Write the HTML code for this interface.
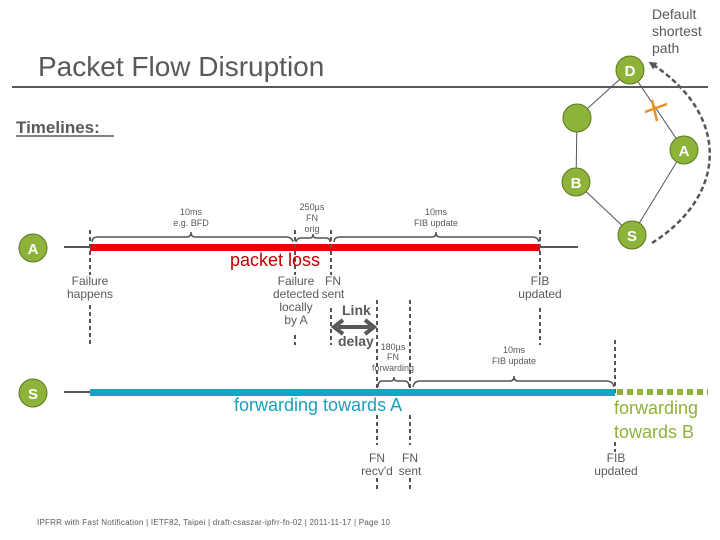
<!DOCTYPE html>
<html><head><meta charset="utf-8"><style>
html,body{margin:0;padding:0;background:#fff;}
svg{display:block;font-family:"Liberation Sans",Arial,sans-serif;}
</style></head><body>
<svg width="720" height="540" viewBox="0 0 720 540" xmlns="http://www.w3.org/2000/svg">
<defs>
<marker id="ah" markerWidth="8" markerHeight="8" refX="4" refY="4" orient="auto" markerUnits="userSpaceOnUse"><path d="M0,0 L8,4 L0,8 z" fill="#555"/></marker>
</defs>
<text x="38" y="76" font-size="28" fill="#595959">Packet Flow Disruption</text>
<line x1="12" y1="87" x2="708" y2="87" stroke="#595959" stroke-width="2"/>
<text x="16" y="133" font-size="17" font-weight="bold" fill="#595959">Timelines:</text>
<line x1="16" y1="136" x2="114" y2="136" stroke="#595959" stroke-width="1.5"/>

<!-- network -->
<g stroke="#555" stroke-width="1">
<line x1="630" y1="70" x2="577" y2="118"/>
<line x1="630" y1="70" x2="684" y2="150"/>
<line x1="577" y1="118" x2="576" y2="182"/>
<line x1="576" y1="182" x2="632" y2="235"/>
<line x1="632" y1="235" x2="684" y2="150"/>
</g>
<g stroke="#e8901e" stroke-width="2.5">
<line x1="645" y1="112" x2="667" y2="104"/>
<line x1="652" y1="100" x2="657" y2="121"/>
</g>
<path d="M652,243 C728,195 730,115 652,64" fill="none" stroke="#555" stroke-width="2.5" stroke-dasharray="5,3" marker-end="url(#ah)"/>
<g fill="#8db33a" stroke="#5a7a1e" stroke-width="1">
<circle cx="630" cy="70" r="14"/>
<circle cx="577" cy="118" r="14"/>
<circle cx="684" cy="150" r="14"/>
<circle cx="576" cy="182" r="14"/>
<circle cx="632" cy="235" r="14"/>
<circle cx="33" cy="248" r="14"/>
<circle cx="33" cy="393" r="14"/>
</g>
<g fill="#fff" font-size="15" font-weight="bold" text-anchor="middle">
<text x="630" y="76">D</text>
<text x="684" y="156">A</text>
<text x="576" y="188">B</text>
<text x="632" y="241">S</text>
<text x="33" y="254">A</text>
<text x="33" y="399">S</text>
</g>
<g font-size="14" fill="#595959">
<text x="652" y="19">Default</text>
<text x="652" y="36">shortest</text>
<text x="652" y="53">path</text>
</g>

<!-- timeline A -->
<line x1="64" y1="247" x2="90" y2="247" stroke="#555" stroke-width="2"/>
<line x1="540" y1="247" x2="578" y2="247" stroke="#555" stroke-width="2"/>
<rect x="90" y="244" width="450" height="7" fill="#e8000b"/>
<g stroke="#555" stroke-width="2" stroke-dasharray="4,3" fill="none">
<line x1="90" y1="230" x2="90" y2="275"/><line x1="90" y1="305" x2="90" y2="345"/>
<line x1="295" y1="230" x2="295" y2="275"/><line x1="295" y1="335" x2="295" y2="345"/>
<line x1="331" y1="230" x2="331" y2="275"/><line x1="331" y1="308" x2="331" y2="345"/>
<line x1="540" y1="230" x2="540" y2="275"/><line x1="540" y1="308" x2="540" y2="345"/>
<line x1="377" y1="300" x2="377" y2="392"/>
<line x1="410" y1="300" x2="410" y2="392"/>
<line x1="615" y1="340" x2="615" y2="393"/><line x1="615" y1="442" x2="615" y2="452"/>
<line x1="377" y1="415" x2="377" y2="445"/><line x1="377" y1="478" x2="377" y2="490"/>
<line x1="410" y1="415" x2="410" y2="445"/><line x1="410" y1="478" x2="410" y2="490"/>
</g>
<g stroke="#555" stroke-width="1.5" fill="none">
<path d="M92,242 Q92,237 98,237 L187,237 Q191,237 191,232 Q191,237 195,237 L286,237 Q292,237 293,242"/>
<path d="M296,242 Q297,238 301,238 L310,238 Q313,238 313,234 Q313,238 316,238 L326,238 Q330,238 330,242"/>
<path d="M334,242 Q334,237 340,237 L432,237 Q436,237 436,232 Q436,237 440,237 L532,237 Q538,237 539,242"/>
<path d="M378,387 Q378,381 382,381 L391,381 Q394,381 394,377 Q394,381 397,381 L405,381 Q409,381 409,387"/>
<path d="M413,387 Q414,381 420,381 L510,381 Q514,381 514,376 Q514,381 518,381 L606,381 Q613,381 614,387"/>
</g>
<g font-size="9" fill="#595959" text-anchor="middle">
<text x="191" y="215">10ms</text><text x="191" y="226">e.g. BFD</text>
<text x="312" y="210">250µs</text><text x="312" y="221">FN</text><text x="312" y="232">orig</text>
<text x="436" y="215">10ms</text><text x="436" y="226">FIB update</text>
<text x="393" y="350">180µs</text><text x="393" y="360">FN</text><text x="393" y="371">forwarding</text>
<text x="514" y="353">10ms</text><text x="514" y="364">FIB update</text>
</g>
<text x="230" y="266" font-size="18" fill="#c00000">packet loss</text>
<g font-size="12" fill="#595959" text-anchor="middle">
<text x="90" y="285">Failure</text><text x="90" y="298">happens</text>
<text x="296" y="285">Failure</text><text x="296" y="298">detected</text><text x="296" y="311">locally</text><text x="296" y="324">by A</text>
<text x="333" y="285">FN</text><text x="333" y="298">sent</text>
<text x="540" y="285">FIB</text><text x="540" y="298">updated</text>
<text x="377" y="462">FN</text><text x="377" y="475">recv'd</text>
<text x="410" y="462">FN</text><text x="410" y="475">sent</text>
<text x="616" y="462">FIB</text><text x="616" y="475">updated</text>
</g>
<g font-size="14" font-weight="bold" fill="#595959">
<text x="342" y="315">Link</text>
<text x="338" y="346">delay</text>
</g>
<g stroke="#595959" stroke-width="4" fill="none">
<line x1="338" y1="327" x2="370" y2="327"/>
<polyline points="343,320 334,327 343,334"/>
<polyline points="365,320 374,327 365,334"/>
</g>

<!-- timeline S -->
<line x1="64" y1="392" x2="90" y2="392" stroke="#555" stroke-width="2"/>
<rect x="90" y="389" width="525" height="7" fill="#17a2c8"/>
<line x1="617" y1="392" x2="708" y2="392" stroke="#8db33a" stroke-width="6" stroke-dasharray="6,4"/>
<text x="234" y="411" font-size="18" fill="#1a9fc0">forwarding towards A</text>
<g font-size="18" fill="#8db33a">
<text x="614" y="414">forwarding</text>
<text x="614" y="438">towards B</text>
</g>
<text x="37" y="525" font-size="8" fill="#595959" textLength="353" lengthAdjust="spacing">IPFRR with Fast Notification  |  IETF82, Taipei  |  draft-csaszar-ipfrr-fn-02  |  2011-11-17  |  Page  10</text>
</svg>
</body></html>
